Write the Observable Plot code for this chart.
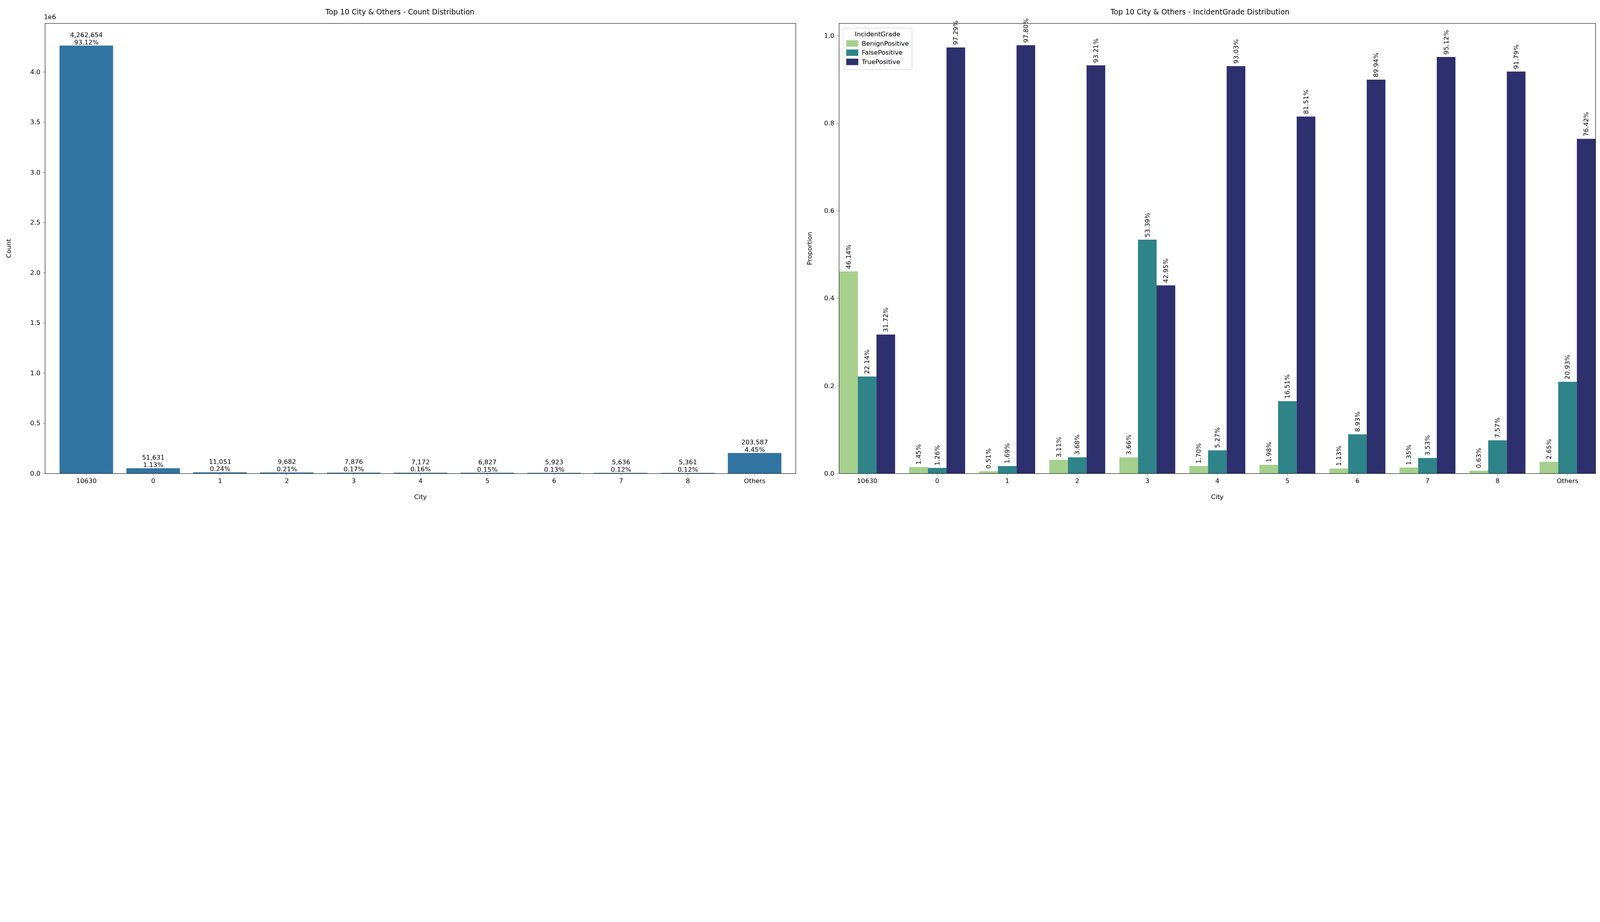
<!DOCTYPE html>
<html><head><meta charset="utf-8">
<script src="https://cdn.jsdelivr.net/npm/d3@7"></script>
<script src="https://cdn.jsdelivr.net/npm/@observablehq/plot@0.6"></script>
<style>
html,body{margin:0;background:#fff;font-family:"DejaVu Sans",sans-serif;overflow:hidden}
#wrap{position:relative;width:7470px;height:2361px;transform-origin:0 0}
.panel{position:absolute;top:0}
.title{position:absolute;top:36px;font-size:34px;text-align:center;width:100%}
.sci{position:absolute;left:205px;top:62px;font-size:30px}
.legend{position:absolute;left:200px;top:130px;border:2px solid #ccc;border-radius:6px;padding:10px 14px;font-size:30px;background:#fff}
.legend div{display:flex;align-items:center;margin:8px 0}
.legend span.sw{display:inline-block;width:56px;height:30px;margin-right:16px}
</style></head>
<body><div id="wrap">
<div class="panel" id="left" style="left:0;width:3735px"><div class="title">Top 10 City &amp; Others - Count Distribution</div><div class="sci">1e6</div></div>
<div class="panel" id="right" style="left:3735px;width:3735px"><div class="title">Top 10 City &amp; Others - IncidentGrade Distribution</div></div>
</div>
<script>
const cities = ["10630","0","1","2","3","4","5","6","7","8","Others"];
const counts = [4262654,51631,11051,9682,7876,7172,6827,5923,5636,5361,203587];
const shares = ["93.12%","1.13%","0.24%","0.21%","0.17%","0.16%","0.15%","0.13%","0.12%","0.12%","4.45%"];
const grades = ["BenignPositive","FalsePositive","TruePositive"];
const gradeColors = ["#a6d08d","#2f8489","#2e2f6d"];
const benign = [0.4614,0.0145,0.0051,0.0311,0.0366,0.0170,0.0198,0.0113,0.0135,0.0063,0.0265];
const falsePos = [0.2214,0.0126,0.0169,0.0368,0.5339,0.0527,0.1651,0.0893,0.0353,0.0757,0.2093];
const truePos = [0.3172,0.9729,0.9780,0.9321,0.4295,0.9303,0.8151,0.8994,0.9512,0.9179,0.7642];

const countData = cities.map((c,i)=>({city:c,count:counts[i],label:counts[i].toLocaleString("en-US")+"\n"+shares[i]}));
const propData = [];
[benign,falsePos,truePos].forEach((arr,g)=>arr.forEach((v,i)=>propData.push({city:cities[i],grade:grades[g],p:v})));

const style = {fontSize:"30px",fontFamily:"DejaVu Sans",background:"transparent"};

const left = Plot.plot({
  width:3735, height:2361, marginLeft:210, marginRight:20, marginTop:109, marginBottom:150,
  style,
  x:{domain:cities, label:"City", labelAnchor:"center", labelOffset:120, labelArrow:"none", padding:0.2, tickSize:10, tickPadding:14},
  y:{domain:[0,4.484e6], label:"Count", labelAnchor:"center", labelOffset:180, labelArrow:"none", ticks:d3.range(0,4.01e6,5e5), tickFormat:d=>(d/1e6).toFixed(1), tickSize:10, tickPadding:12},
  marks:[
    Plot.barY(countData,{x:"city",y:"count",fill:"#3274a1"}),
    Plot.text(countData,{x:"city",y:"count",text:"label",lineAnchor:"bottom",lineHeight:1.15,dy:-6,fontSize:30,fill:"#000"}),
    Plot.frame({stroke:"#000",strokeWidth:2})
  ]
});
document.getElementById("left").append(left);

const right = Plot.plot({
  width:3735, height:2361, marginLeft:180, marginRight:20, marginTop:109, marginBottom:150,
  style,
  fx:{domain:cities, label:"City", labelAnchor:"center", labelOffset:120, labelArrow:"none", padding:0.2, tickSize:10, tickPadding:14, axis:"bottom"},
  x:{domain:grades, axis:null, padding:0},
  y:{domain:[0,1.028], label:"Proportion", labelAnchor:"center", labelOffset:150, labelArrow:"none", ticks:[0,0.2,0.4,0.6,0.8,1.0], tickFormat:d=>d.toFixed(1), tickSize:10, tickPadding:12},
  color:{domain:grades, range:gradeColors},
  marks:[
    Plot.barY(propData,{fx:"city",x:"grade",y:"p",fill:"grade"}),
    Plot.text(propData,{fx:"city",x:"grade",y:"p",text:d=>(d.p*100).toFixed(2)+"%",rotate:-90,textAnchor:"start",dy:-12,fontSize:30,fill:"#000"}),
    Plot.frame({facet:"super",stroke:"#000",strokeWidth:2})
  ]
});
document.getElementById("right").append(right);

const lg = document.createElement("div");
lg.className = "legend";
lg.innerHTML = '<div style="justify-content:center;margin-top:0">IncidentGrade</div>' +
  grades.map((g,i)=>`<div><span class="sw" style="background:${gradeColors[i]}"></span>${g}</div>`).join("");
document.getElementById("right").append(lg);

// fit the 7470x2361 layout into whatever viewport we get
const s = Math.min(window.innerWidth/7470, window.innerHeight/2361);
document.getElementById("wrap").style.transform = `scale(${s})`;
</script>
</body></html>
